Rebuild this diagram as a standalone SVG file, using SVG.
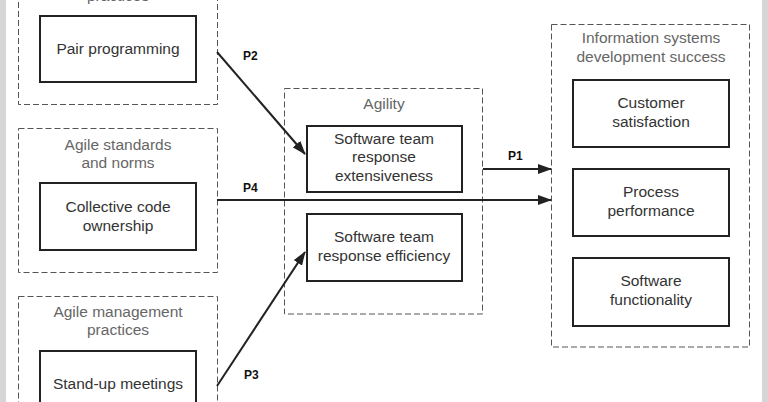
<svg xmlns="http://www.w3.org/2000/svg" width="768" height="402" viewBox="0 0 768 402">
<defs>
<style>
.grp{fill:none;stroke:#555;stroke-width:1;stroke-dasharray:6 3}
.box{fill:#fff;stroke:#222;stroke-width:2}
.t{font-family:"Liberation Sans",Arial,sans-serif;font-size:15.5px;fill:#333;text-anchor:middle}
.g{font-family:"Liberation Sans",Arial,sans-serif;font-size:15.5px;fill:#666;text-anchor:middle}
.p{font-family:"Liberation Sans",Arial,sans-serif;font-size:12px;font-weight:bold;fill:#111}
.c{stroke:#222;stroke-width:2;fill:none;marker-end:url(#ah)}
</style>
<marker id="ah" markerWidth="14" markerHeight="10" refX="13" refY="5" orient="auto" markerUnits="userSpaceOnUse">
<path d="M0,0 L14,5 L0,10 Z" fill="#222"/>
</marker>
</defs>
<rect x="0" y="0" width="768" height="402" fill="#fff"/>
<rect x="0" y="0" width="6" height="402" fill="#d6d6d6"/>
<rect x="762" y="0" width="6" height="402" fill="#d6d6d6"/>

<g id="grp-practices">
<rect class="grp" x="18.5" y="-40" width="199" height="144.5"/>
<text class="g" x="118" y="1">practices</text>
</g>
<g id="pair-programming">
<rect class="box" x="40" y="16" width="156" height="66"/>
<text class="t" x="118" y="54">Pair programming</text>
</g>

<g id="grp-standards">
<rect class="grp" x="18.5" y="128.5" width="199" height="144"/>
<text class="g" x="118" y="150">Agile standards</text>
<text class="g" x="118" y="168">and norms</text>
</g>
<g id="collective-code">
<rect class="box" x="40" y="183" width="156" height="67"/>
<text class="t" x="118" y="212">Collective code</text>
<text class="t" x="118" y="231">ownership</text>
</g>

<g id="grp-management">
<rect class="grp" x="18.5" y="296.5" width="199" height="140"/>
<text class="g" x="118" y="317">Agile management</text>
<text class="g" x="118" y="335">practices</text>
</g>
<g id="standup">
<rect class="box" x="40" y="351" width="156" height="80"/>
<text class="t" x="118" y="389">Stand-up meetings</text>
</g>

<g id="grp-agility">
<rect class="grp" x="284.5" y="88.5" width="198" height="225.5"/>
<text class="g" x="384" y="109">Agility</text>
</g>
<g id="extensiveness">
<rect class="box" x="307" y="126" width="155" height="66"/>
<text class="t" x="384" y="144">Software team</text>
<text class="t" x="384" y="162">response</text>
<text class="t" x="384" y="181">extensiveness</text>
</g>
<g id="efficiency">
<rect class="box" x="307" y="214" width="155" height="67"/>
<text class="t" x="384" y="242">Software team</text>
<text class="t" x="384" y="261">response efficiency</text>
</g>

<g id="grp-isd">
<rect class="grp" x="551.5" y="24.5" width="198" height="322.5"/>
<text class="g" x="651" y="43">Information systems</text>
<text class="g" x="651" y="62">development success</text>
</g>
<g id="customer">
<rect class="box" x="573" y="80" width="156" height="67"/>
<text class="t" x="651" y="108">Customer</text>
<text class="t" x="651" y="127">satisfaction</text>
</g>
<g id="process">
<rect class="box" x="573" y="169" width="156" height="67"/>
<text class="t" x="651" y="197">Process</text>
<text class="t" x="651" y="216">performance</text>
</g>
<g id="functionality">
<rect class="box" x="573" y="258" width="156" height="68"/>
<text class="t" x="651" y="286">Software</text>
<text class="t" x="651" y="305">functionality</text>
</g>

<g id="connectors">
<line class="c" x1="217" y1="52" x2="305" y2="154"/>
<line class="c" x1="217" y1="386" x2="305" y2="252"/>
<line class="c" x1="217" y1="200" x2="551" y2="200"/>
<line class="c" x1="483" y1="169" x2="551" y2="169"/>
<text class="p" x="243" y="60">P2</text>
<text class="p" x="243" y="192">P4</text>
<text class="p" x="244" y="379">P3</text>
<text class="p" x="508" y="160">P1</text>
</g>
</svg>
